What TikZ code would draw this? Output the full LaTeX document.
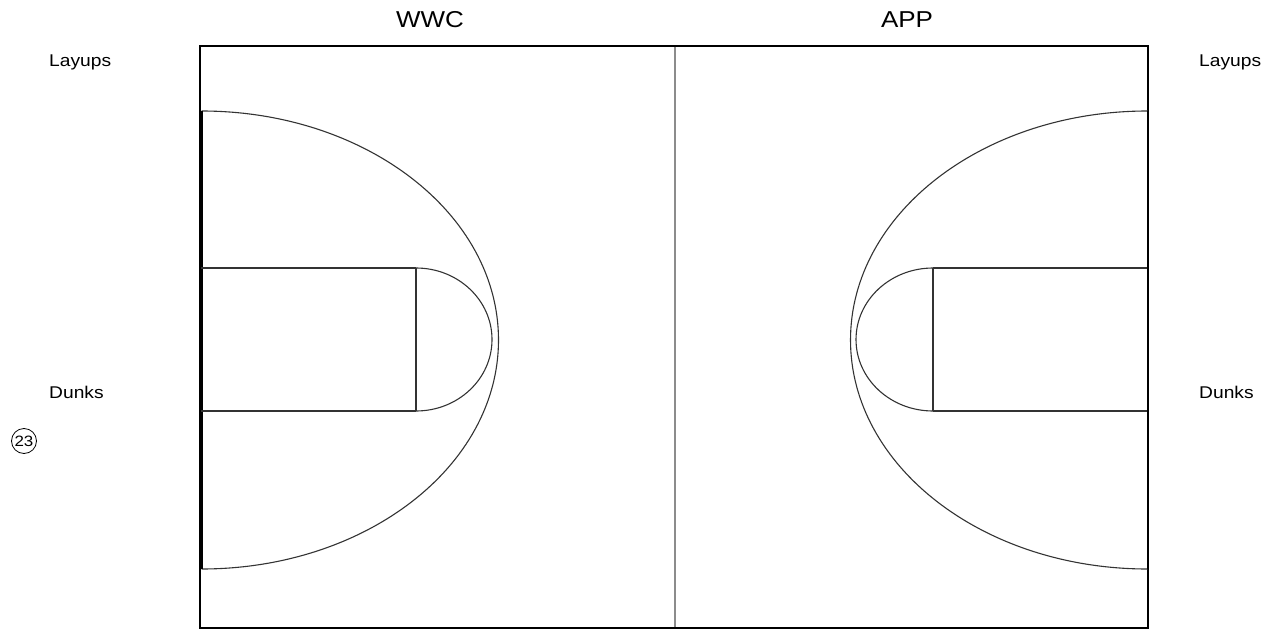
\documentclass[tikz,border=0pt]{standalone}
\usepackage{fontspec}
\setmainfont{Liberation Sans}
\newfontfamily\labfont[FakeStretch=1.13]{Liberation Sans}
\begin{document}
\begin{tikzpicture}[x=1pt,y=-1pt,
  border/.style={line width=2pt,black},
  midline/.style={line width=1.5pt,black!45},
  courtline/.style={line width=1.1pt,black!80},
  ftline/.style={line width=2pt,black!80},
  title/.style={font=\labfont\fontsize{23}{23}\selectfont,anchor=base,inner sep=0pt},
  sidelab/.style={font=\labfont\fontsize{17}{17}\selectfont,anchor=base west,inner sep=0pt},
  badge/.style={circle,draw,line width=0.8pt,inner sep=0pt,minimum size=25pt,font=\labfont\fontsize{15}{15}\selectfont}]
\useasboundingbox (0,0) rectangle (1273,631);
% court outline and mid line
\draw[border] (200,46) rectangle (1148,628);
\draw[midline] (675,47) -- (675,627);
% left half
\draw[courtline] (201.5,111) arc[start angle=90,end angle=-90,x radius=297pt,y radius=229pt];
\draw[line width=2pt,black] (201.5,111) -- (201.5,569);
\draw[courtline] (201,268) -- (416,268);
\draw[courtline] (201,411) -- (416,411);
\draw[ftline] (416,268) -- (416,411);
\draw[courtline] (416,268) arc[start angle=90,end angle=-90,x radius=76pt,y radius=71.5pt];
% right half
\draw[courtline] (1147.5,111) arc[start angle=90,end angle=270,x radius=297pt,y radius=229pt];
\draw[line width=2pt,black] (1147.5,111) -- (1147.5,569);
\draw[courtline] (933,268) -- (1147,268);
\draw[courtline] (933,411) -- (1147,411);
\draw[ftline] (933,268) -- (933,411);
\draw[courtline] (933,268) arc[start angle=90,end angle=270,x radius=77pt,y radius=71.5pt];
% labels
\node[title] (wwc) at (430,28) {WWC};
\node[title] (app) at (907,28) {APP};
\node[sidelab] (layupsL) at (49,67) {Layups};
\node[sidelab] (dunksL) at (49,398) {Dunks};
\node[sidelab] (layupsR) at (1199,67) {Layups};
\node[sidelab] (dunksR) at (1199,398) {Dunks};
\node[badge] (num) at (24,441) {23};
\end{tikzpicture}
\end{document}
